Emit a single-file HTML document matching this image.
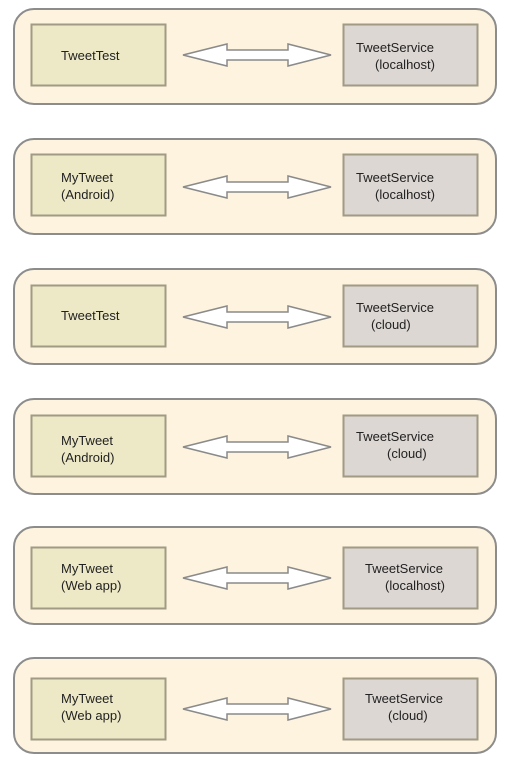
<!DOCTYPE html>
<html><head><meta charset="utf-8"><style>
html,body{margin:0;padding:0;background:#fff;}
svg{display:block;}
text{font-family:"Liberation Sans",sans-serif;font-size:13px;fill:#222;}
</style></head><body>
<svg width="506" height="762" viewBox="0 0 506 762" xmlns="http://www.w3.org/2000/svg">
<defs>
<g id="arrow"><path d="M183 0 L227 -11 L227 -5 L288 -5 L288 -11 L331 0 L288 11 L288 5 L227 5 L227 11 Z" fill="#fff" stroke="#8a8a8a" stroke-width="1.5"/></g>
</defs>
<!-- Row 1 -->
<g>
<rect x="14" y="9" width="482" height="95" rx="20" fill="#fdf3de" stroke="#8c8c8c" stroke-width="2"/>
<rect x="31.5" y="24.5" width="134" height="61" fill="#ede9c6" stroke="#a19a84" stroke-width="2"/>
<rect x="343.5" y="24.5" width="134" height="61" fill="#dcd7d3" stroke="#a19a84" stroke-width="2"/>
<use href="#arrow" transform="translate(0,55)"/>
<text x="61" y="60">TweetTest</text>
<text x="356" y="52">TweetService</text>
<text x="375" y="69">(localhost)</text>
</g>
<!-- Row 2 -->
<g>
<rect x="14" y="139" width="482" height="95" rx="20" fill="#fdf3de" stroke="#8c8c8c" stroke-width="2"/>
<rect x="31.5" y="154.5" width="134" height="61" fill="#ede9c6" stroke="#a19a84" stroke-width="2"/>
<rect x="343.5" y="154.5" width="134" height="61" fill="#dcd7d3" stroke="#a19a84" stroke-width="2"/>
<use href="#arrow" transform="translate(0,187)"/>
<text x="61" y="182">MyTweet</text>
<text x="61" y="199">(Android)</text>
<text x="356" y="182">TweetService</text>
<text x="375" y="199">(localhost)</text>
</g>
<!-- Row 3 -->
<g>
<rect x="14" y="269" width="482" height="95" rx="20" fill="#fdf3de" stroke="#8c8c8c" stroke-width="2"/>
<rect x="31.5" y="285.5" width="134" height="61" fill="#ede9c6" stroke="#a19a84" stroke-width="2"/>
<rect x="343.5" y="285.5" width="134" height="61" fill="#dcd7d3" stroke="#a19a84" stroke-width="2"/>
<use href="#arrow" transform="translate(0,317)"/>
<text x="61" y="320">TweetTest</text>
<text x="356" y="312">TweetService</text>
<text x="371" y="329">(cloud)</text>
</g>
<!-- Row 4 -->
<g>
<rect x="14" y="399" width="482" height="95" rx="20" fill="#fdf3de" stroke="#8c8c8c" stroke-width="2"/>
<rect x="31.5" y="415.5" width="134" height="61" fill="#ede9c6" stroke="#a19a84" stroke-width="2"/>
<rect x="343.5" y="415.5" width="134" height="61" fill="#dcd7d3" stroke="#a19a84" stroke-width="2"/>
<use href="#arrow" transform="translate(0,447)"/>
<text x="61" y="445">MyTweet</text>
<text x="61" y="462">(Android)</text>
<text x="356" y="441">TweetService</text>
<text x="387" y="458">(cloud)</text>
</g>
<!-- Row 5 -->
<g>
<rect x="14" y="527" width="482" height="97" rx="20" fill="#fdf3de" stroke="#8c8c8c" stroke-width="2"/>
<rect x="31.5" y="547.5" width="134" height="61" fill="#ede9c6" stroke="#a19a84" stroke-width="2"/>
<rect x="343.5" y="547.5" width="134" height="61" fill="#dcd7d3" stroke="#a19a84" stroke-width="2"/>
<use href="#arrow" transform="translate(0,578)"/>
<text x="61" y="573">MyTweet</text>
<text x="61" y="590">(Web app)</text>
<text x="365" y="573">TweetService</text>
<text x="385" y="590">(localhost)</text>
</g>
<!-- Row 6 -->
<g>
<rect x="14" y="658" width="482" height="95" rx="20" fill="#fdf3de" stroke="#8c8c8c" stroke-width="2"/>
<rect x="31.5" y="678.5" width="134" height="61" fill="#ede9c6" stroke="#a19a84" stroke-width="2"/>
<rect x="343.5" y="678.5" width="134" height="61" fill="#dcd7d3" stroke="#a19a84" stroke-width="2"/>
<use href="#arrow" transform="translate(0,709)"/>
<text x="61" y="703">MyTweet</text>
<text x="61" y="720">(Web app)</text>
<text x="365" y="703">TweetService</text>
<text x="388" y="720">(cloud)</text>
</g>
</svg>
</body></html>
